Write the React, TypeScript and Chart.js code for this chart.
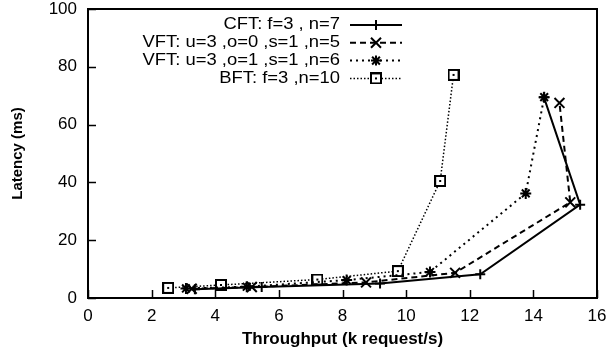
import React, { useEffect, useRef } from 'react';
import { Chart, registerables } from 'chart.js';
Chart.register(...registerables);

const seriesLabels = [
  'CFT: f=3 , n=7',
  'VFT: u=3 ,o=0 ,s=1 ,n=5',
  'VFT: u=3 ,o=1 ,s=1 ,n=6',
  'BFT: f=3 ,n=10',
];
const cftX = [3.36, 5.46, 9.18, 12.33, 15.47, 14.33];
const cftY = [3.0, 3.8, 5.0, 8.2, 32.3, 69.5];
const vft0X = [3.26, 5.15, 8.74, 11.54, 15.16, 14.82];
const vft0Y = [3.2, 3.8, 5.4, 8.7, 33.1, 67.5];
const vft1X = [3.08, 4.99, 8.13, 10.75, 13.76, 14.34];
const vft1Y = [3.3, 3.9, 6.2, 9.0, 36.2, 69.5];
const bftX = [2.52, 4.18, 7.21, 9.74, 11.07, 11.49];
const bftY = [3.5, 4.5, 6.4, 9.3, 40.5, 77.2];
const xTicks = [0, 2, 4, 6, 8, 10, 12, 14, 16];
const yTicks = [0, 20, 40, 60, 80, 100];
const xTitle = 'Throughput (k request/s)';
const yTitle = 'Latency (ms)';

const FONT = '"Liberation Sans", Arial, Helvetica, sans-serif';

function pts(xs: number[], ys: number[]) {
  return xs.map((x, i) => ({ x, y: ys[i] }));
}

function makeSquare(): HTMLCanvasElement {
  const c = document.createElement('canvas');
  c.width = 12;
  c.height = 12;
  const g = c.getContext('2d')!;
  g.fillStyle = '#fff';
  g.fillRect(1, 1, 10, 10);
  g.strokeStyle = '#000';
  g.lineWidth = 2;
  g.strokeRect(1, 1, 10, 10);
  g.fillStyle = '#000';
  g.fillRect(5, 5, 2, 2);
  return c;
}

function drawMarker(g: CanvasRenderingContext2D, kind: string, x: number, y: number, sq: HTMLCanvasElement) {
  g.save();
  g.setLineDash([]);
  g.strokeStyle = '#000';
  g.lineWidth = 2;
  g.beginPath();
  if (kind === 'cross' || kind === 'star') {
    const r = 5;
    g.moveTo(x - r, y); g.lineTo(x + r, y);
    g.moveTo(x, y - r); g.lineTo(x, y + r);
  }
  if (kind === 'crossRot' || kind === 'star') {
    const d = kind === 'star' ? 3.9 : 5;
    g.moveTo(x - d, y - d); g.lineTo(x + d, y + d);
    g.moveTo(x - d, y + d); g.lineTo(x + d, y - d);
  }
  g.stroke();
  if (kind === 'square') g.drawImage(sq, x - 6, y - 6);
  g.restore();
}

export default function App() {
  const ref = useRef<HTMLCanvasElement>(null);
  useEffect(() => {
    const sq = makeSquare();
    const styles = ['cross', 'crossRot', 'star', 'square'];
    const frame = {
      id: 'frame',
      afterDatasetsDraw(chart: any) {
        const { ctx, chartArea: a } = chart;
        const xs = chart.scales.x;
        const ys = chart.scales.y;
        ctx.save();
        ctx.strokeStyle = '#000';
        ctx.lineWidth = 1.5;
        ctx.setLineDash([]);
        ctx.beginPath();
        xTicks.forEach((v) => {
          const px = Math.round(xs.getPixelForValue(v)) + 0.5;
          ctx.moveTo(px, a.bottom);
          ctx.lineTo(px, a.bottom - 8);
        });
        yTicks.forEach((v) => {
          const py = Math.round(ys.getPixelForValue(v)) + 0.5;
          ctx.moveTo(a.left, py);
          ctx.lineTo(a.left + 8, py);
        });
        ctx.stroke();
        ctx.lineWidth = 2;
        ctx.strokeRect(a.left, a.top, a.right - a.left, a.bottom - a.top);
        // legend
        ctx.fillStyle = '#000';
        chart.data.datasets.forEach((ds: any, i: number) => {
          const y = 25 + i * 17.8;
          ctx.save();
          ctx.font = `16px ${FONT}`;
          ctx.textAlign = 'right';
          ctx.textBaseline = 'middle';
          ctx.translate(340, y);
          ctx.scale(1.15, 1);
          ctx.fillText(ds.label, 0, 0);
          ctx.restore();
          ctx.save();
          ctx.lineWidth = ds.borderWidth;
          ctx.setLineDash(ds.borderDash || []);
          ctx.beginPath();
          ctx.moveTo(350, y);
          ctx.lineTo(402, y);
          ctx.stroke();
          ctx.restore();
          drawMarker(ctx, styles[i], 376, y, sq);
        });
        ctx.restore();
      },
    };
    const chart = new Chart(ref.current!, {
      type: 'scatter',
      data: {
        datasets: [
          {
            label: seriesLabels[0],
            data: pts(cftX, cftY),
            showLine: true,
            borderColor: '#000',
            backgroundColor: '#000',
            borderWidth: 2,
            borderDash: [],
            pointStyle: 'cross',
            pointRadius: 5,
            pointBorderWidth: 2,
          },
          {
            label: seriesLabels[1],
            data: pts(vft0X, vft0Y),
            showLine: true,
            borderColor: '#000',
            backgroundColor: '#000',
            borderWidth: 2,
            borderDash: [6, 4],
            pointStyle: 'crossRot',
            pointRadius: 7,
            pointBorderWidth: 2,
          },
          {
            label: seriesLabels[2],
            data: pts(vft1X, vft1Y),
            showLine: true,
            borderColor: '#000',
            backgroundColor: '#000',
            borderWidth: 2,
            borderDash: [2, 4],
            pointStyle: 'star',
            pointRadius: 5.5,
            pointBorderWidth: 2,
          },
          {
            label: seriesLabels[3],
            data: pts(bftX, bftY),
            showLine: true,
            borderColor: '#000',
            backgroundColor: '#000',
            borderWidth: 1.5,
            borderDash: [1.5, 2],
            pointStyle: sq as any,
            pointRadius: 6,
            pointBorderWidth: 2,
          },
        ],
      },
      options: {
        animation: false,
        responsive: false,
        maintainAspectRatio: false,
        layout: { padding: { top: 7, right: 13, left: 0, bottom: 0 } },
        plugins: { legend: { display: false }, tooltip: { enabled: false } },
        scales: {
          x: {
            type: 'linear',
            min: 0,
            max: 16,
            afterBuildTicks: (s: any) => { s.ticks = xTicks.map((v) => ({ value: v })); },
            afterFit: (s: any) => { s.height = 58; s.paddingLeft = 0; s.paddingRight = 0; },
            grid: { display: false, drawTicks: false },
            border: { display: false },
            ticks: { color: '#000', font: { family: FONT, size: 17 }, padding: 8, maxRotation: 0 },
            title: { display: true, text: xTitle, color: '#000', font: { family: FONT, size: 17, weight: 'bold' }, padding: { top: 0, bottom: 6 } },
          },
          y: {
            type: 'linear',
            min: 0,
            max: 100,
            afterBuildTicks: (s: any) => { s.ticks = yTicks.map((v) => ({ value: v })); },
            afterFit: (s: any) => { s.width = 88; s.paddingTop = 0; s.paddingBottom = 0; },
            grid: { display: false, drawTicks: false },
            border: { display: false },
            ticks: { color: '#000', font: { family: FONT, size: 17 }, padding: 11 },
            title: { display: true, text: yTitle, color: '#000', font: { family: FONT, size: 15, weight: 'bold' }, padding: { top: 8.5, bottom: 0 } },
          },
        },
      },
      plugins: [frame],
    } as any);
    return () => chart.destroy();
  }, []);
  return (
    <div style={{ position: 'absolute', left: 0, top: 0, width: 610, height: 356 }}>
      <canvas ref={ref} width={610} height={356} style={{ display: 'block' }} />
    </div>
  );
}
